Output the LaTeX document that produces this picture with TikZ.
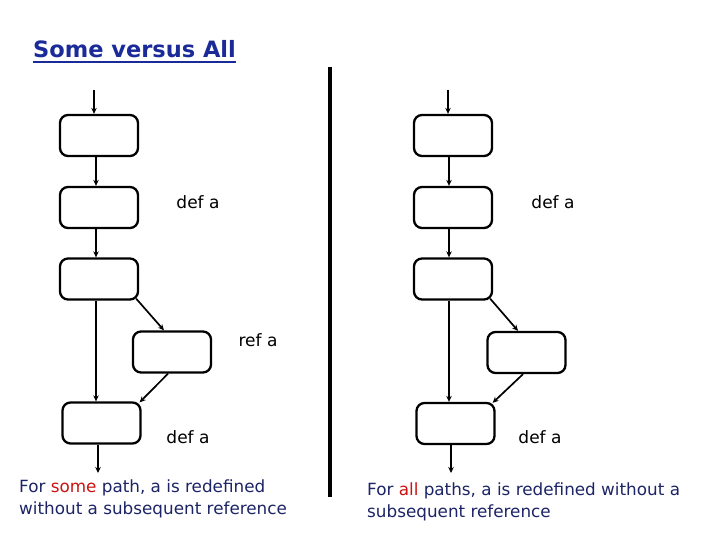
\documentclass[tikz,border=0pt]{standalone}
\usepackage{fontspec}
\setmainfont{DejaVu Sans}
\usetikzlibrary{arrows.meta}
\definecolor{titleblue}{HTML}{1A2A99}
\definecolor{navy}{HTML}{1C2466}
\definecolor{redw}{HTML}{CC1111}
\tikzset{
  blk/.style={draw=black, line width=2.3pt, rounded corners=8pt, minimum width=78pt, minimum height=41pt, inner sep=0pt},
  arr/.style={draw=black, line width=1.7pt, -{Stealth[length=6pt,width=5.5pt]}},
  lbl/.style={font=\fontsize{17}{20}\selectfont, inner sep=0pt},
  note/.style={font=\fontsize{16.8}{22}\selectfont, text=navy, align=left, inner sep=0pt, anchor=north west},
}
\begin{document}
\begin{tikzpicture}[x=1pt,y=-1pt]
\useasboundingbox (0,0) rectangle (720,540);
% title
\node[font=\bfseries\fontsize{22.5}{28}\selectfont, text=titleblue, anchor=base west, inner sep=0pt] (title) at (33,58) {Some versus All};
\draw[titleblue, line width=2.2pt] ([yshift=-4pt]title.base west) -- ([yshift=-4pt]title.base east);
% divider
\coordinate (bartop) at (330,67);
\coordinate (barbot) at (330,497);
\draw[line width=4pt] (bartop) -- (barbot);
% left graph
\node[blk] (a1) at (99,135.5) {};
\node[blk] (a2) at (99,207.5) {};
\node[blk] (a3) at (99,279) {};
\node[blk] (a4) at (172,352) {};
\node[blk] (a5) at (101.5,423) {};
\coordinate (ain) at (94,90);
\coordinate (aout) at (98,473);
\draw[arr] (ain) -- (ain |- a1.north);
\draw[arr] ([xshift=-3pt]a1.south) -- ([xshift=-3pt]a2.north);
\draw[arr] ([xshift=-3pt]a2.south) -- ([xshift=-3pt]a3.north);
\draw[arr] ([xshift=-3pt]a3.south) -- ([xshift=-5.5pt]a5.north);
\draw[arr] ([xshift=-3pt,yshift=2pt]a3.south east) -- ([xshift=-8pt]a4.north);
\draw[arr] ([xshift=-4pt]a4.south) -- ([xshift=-2pt,yshift=-1pt]a5.north east);
\draw[arr] ([xshift=-3.5pt]a5.south) -- (aout);
\node[lbl] (ad1) at (198,202) {def a};
\node[lbl] (ar) at (258,340) {ref a};
\node[lbl] (ad2) at (188,437) {def a};
% right graph
\node[blk] (b1) at (453,135.5) {};
\node[blk] (b2) at (453,207.5) {};
\node[blk] (b3) at (453,279) {};
\node[blk] (b4) at (526.5,352.5) {};
\node[blk] (b5) at (455.5,423.5) {};
\coordinate (bin) at (448,90);
\coordinate (bout) at (451,473);
\draw[arr] (bin) -- (bin |- b1.north);
\draw[arr] ([xshift=-4pt]b1.south) -- ([xshift=-4pt]b2.north);
\draw[arr] ([xshift=-4pt]b2.south) -- ([xshift=-4pt]b3.north);
\draw[arr] ([xshift=-4pt]b3.south) -- ([xshift=-6.5pt]b5.north);
\draw[arr] ([xshift=-3pt,yshift=2pt]b3.south east) -- ([xshift=-8.5pt]b4.north);
\draw[arr] ([xshift=-3.5pt]b4.south) -- ([xshift=-3pt,yshift=-1pt]b5.north east);
\draw[arr] ([xshift=-4.5pt]b5.south) -- (bout);
\node[lbl] (bd1) at (553,202) {def a};
\node[lbl] (bd2) at (540,437) {def a};
% notes
\node[note] (nl) at (19,480) {For \textcolor{redw}{some} path, a is redefined\\without a subsequent reference};
\node[note] (nr) at (367,483) {For \textcolor{redw}{all} paths, a is redefined without a\\subsequent reference};
\end{tikzpicture}
\end{document}
